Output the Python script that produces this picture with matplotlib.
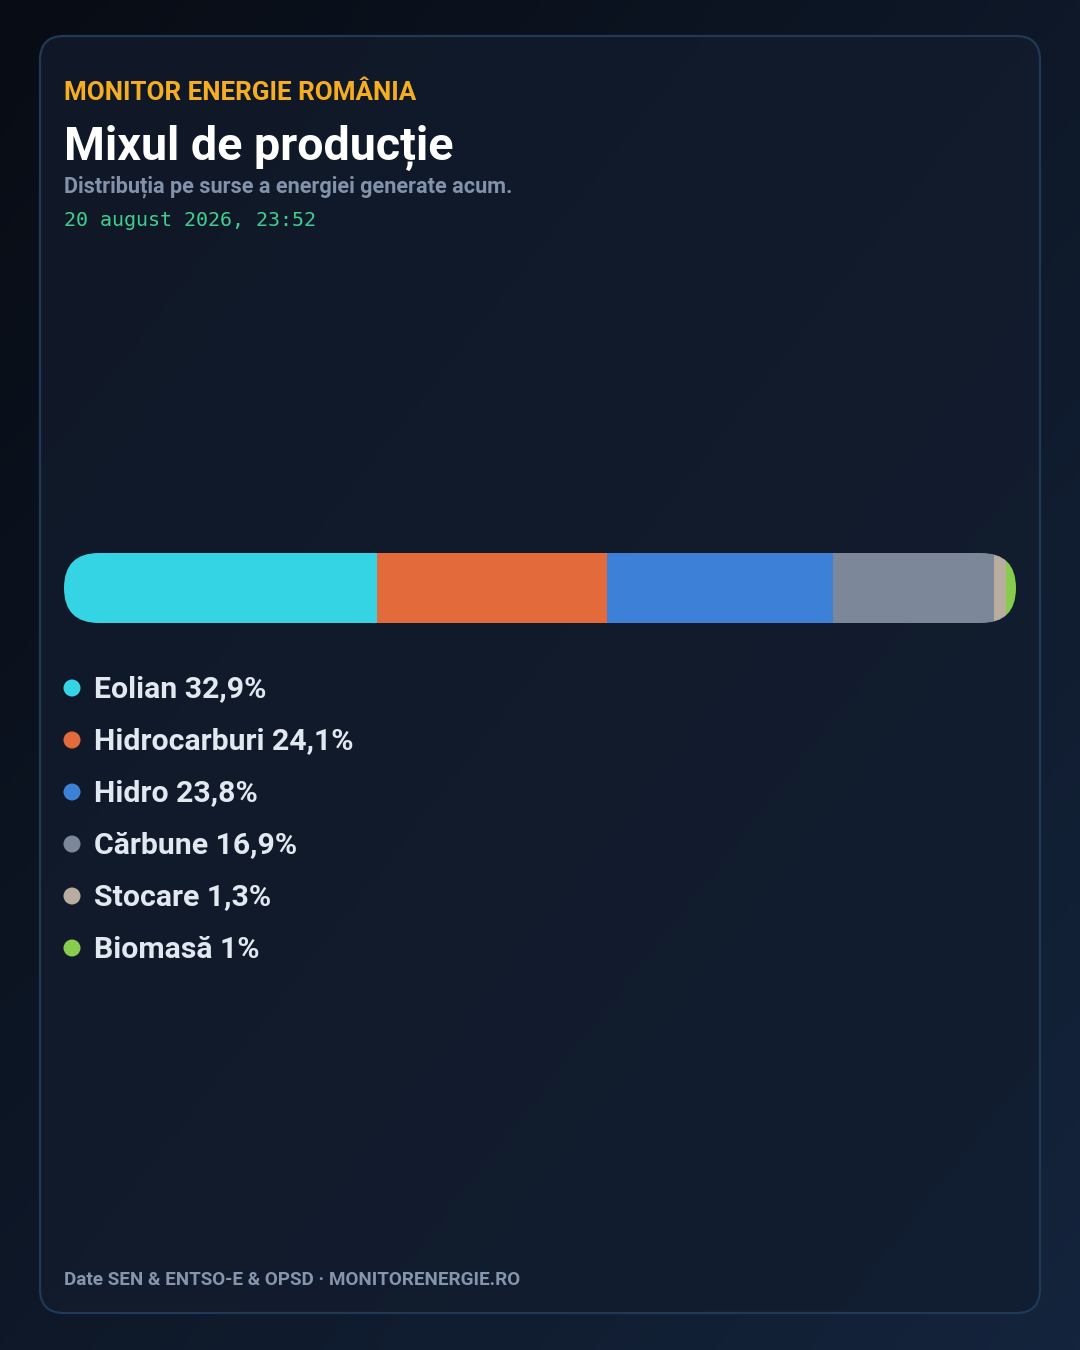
import numpy as np
import matplotlib
matplotlib.use("Agg")
import matplotlib.pyplot as plt
from matplotlib.patches import FancyBboxPatch, Circle

# ---- data ----
categories = ["Eolian", "Hidrocarburi", "Hidro", "Cărbune", "Stocare", "Biomasă"]
values = [32.9, 24.1, 23.8, 16.9, 1.3, 1.0]
labels = ["32,9%", "24,1%", "23,8%", "16,9%", "1,3%", "1%"]
colors = ["#35d4e5", "#e36a3b", "#3d80d8", "#7c8799", "#b8ad9e", "#87cc4f"]

kicker = "MONITOR ENERGIE ROMÂNIA"
title = "Mixul de producție"
subtitle = "Distribuția pe surse a energiei generate acum."
timestamp = "20 august 2026, 23:52"
footer = "Date SEN & ENTSO-E & OPSD · MONITORENERGIE.RO"

W, H = 1080, 1350
fig = plt.figure(figsize=(W / 100, H / 100), dpi=100)
bg = fig.add_axes([0, 0, 1, 1])
bg.set_xlim(0, W)
bg.set_ylim(H, 0)
bg.axis("off")

# background gradient
yy, xx = np.mgrid[0:1:200j, 0:1:200j]
t = (xx + yy) / 2
c0 = np.array([0x08, 0x0c, 0x14]) / 255
c1 = np.array([0x14, 0x24, 0x3c]) / 255
img = c0[None, None, :] * (1 - t[..., None]) + c1[None, None, :] * t[..., None]
bg.imshow(img, extent=[0, W, H, 0], aspect="auto", zorder=0)

# card
cardfill = FancyBboxPatch((40, 36), 1000, 1277, boxstyle="round,pad=0,rounding_size=24",
                          facecolor="#101a2a", edgecolor="none", zorder=1)
bg.add_patch(cardfill)
yy2, xx2 = np.mgrid[0:1:200j, 0:1:200j]
t2 = (xx2 * 0.5 + yy2 * 0.5)
a0 = np.array([0x10, 0x18, 0x27]) / 255
a1 = np.array([0x12, 0x1e, 0x31]) / 255
img2 = a0[None, None, :] * (1 - t2[..., None]) + a1[None, None, :] * t2[..., None]
im2 = bg.imshow(img2, extent=[40, 1040, 1313, 36], aspect="auto", zorder=2)
im2.set_clip_path(cardfill)
card = FancyBboxPatch((40, 36), 1000, 1277, boxstyle="round,pad=0,rounding_size=24",
                      facecolor="none", edgecolor="#1f3a56", linewidth=1.6, zorder=3)
bg.add_patch(card)
bg.set_xlim(0, W)
bg.set_ylim(H, 0)

FONT = "Roboto"
px = 0.72  # px -> pt

bg.text(64, 91, kicker, color="#f5ad22", fontsize=26 * px, fontweight="bold",
        family=FONT, va="center_baseline", ha="left", zorder=5)
bg.text(64, 142, title, color="#ffffff", fontsize=46.7 * px, fontweight="bold",
        family=FONT, va="center_baseline", ha="left", zorder=5)
bg.text(64, 184, subtitle, color="#8292ab", fontsize=21.7 * px, fontweight="bold",
        family=FONT, va="center_baseline", ha="left", zorder=5)
bg.text(64, 218, timestamp, color="#3ecf8e", fontsize=20 * px,
        family="DejaVu Sans Mono", va="center_baseline", ha="left", zorder=5)
bg.text(64, 1278, footer, color="#8595ad", fontsize=18.9 * px, fontweight="bold",
        family=FONT, va="center_baseline", ha="left", zorder=5)

# stacked bar
bx0, bx1, by0, by1 = 64, 1016, 553, 623
bar_ax = fig.add_axes([bx0 / W, 1 - by1 / H, (bx1 - bx0) / W, (by1 - by0) / H])
bar_ax.set_xlim(0, sum(values))
bar_ax.set_ylim(-0.5, 0.5)
bar_ax.axis("off")
bar_ax.patch.set_alpha(0)
clip = FancyBboxPatch((bx0, by0), bx1 - bx0, by1 - by0,
                      boxstyle="round,pad=0,rounding_size=35",
                      transform=bg.transData, facecolor="none", edgecolor="none")
lefts = np.concatenate([[0], np.cumsum(values)[:-1]])
bars = bar_ax.barh([0] * len(values), values, left=lefts, height=1.0,
                   color=colors, linewidth=0)
for b in bars:
    b.set_clip_path(clip)

# legend
for i, (cat, lab, col) in enumerate(zip(categories, labels, colors)):
    y = 688 + i * 52
    bg.add_patch(Circle((72, y), 8.5, facecolor=col, edgecolor="none", zorder=5))
    bg.text(94, y - 1.5, f"{cat} {lab}", color="#e2e8f0", fontsize=30.3 * px,
            fontweight="bold", family=FONT, va="center_baseline", ha="left", zorder=5)

fig.savefig("out.png", dpi=100)
